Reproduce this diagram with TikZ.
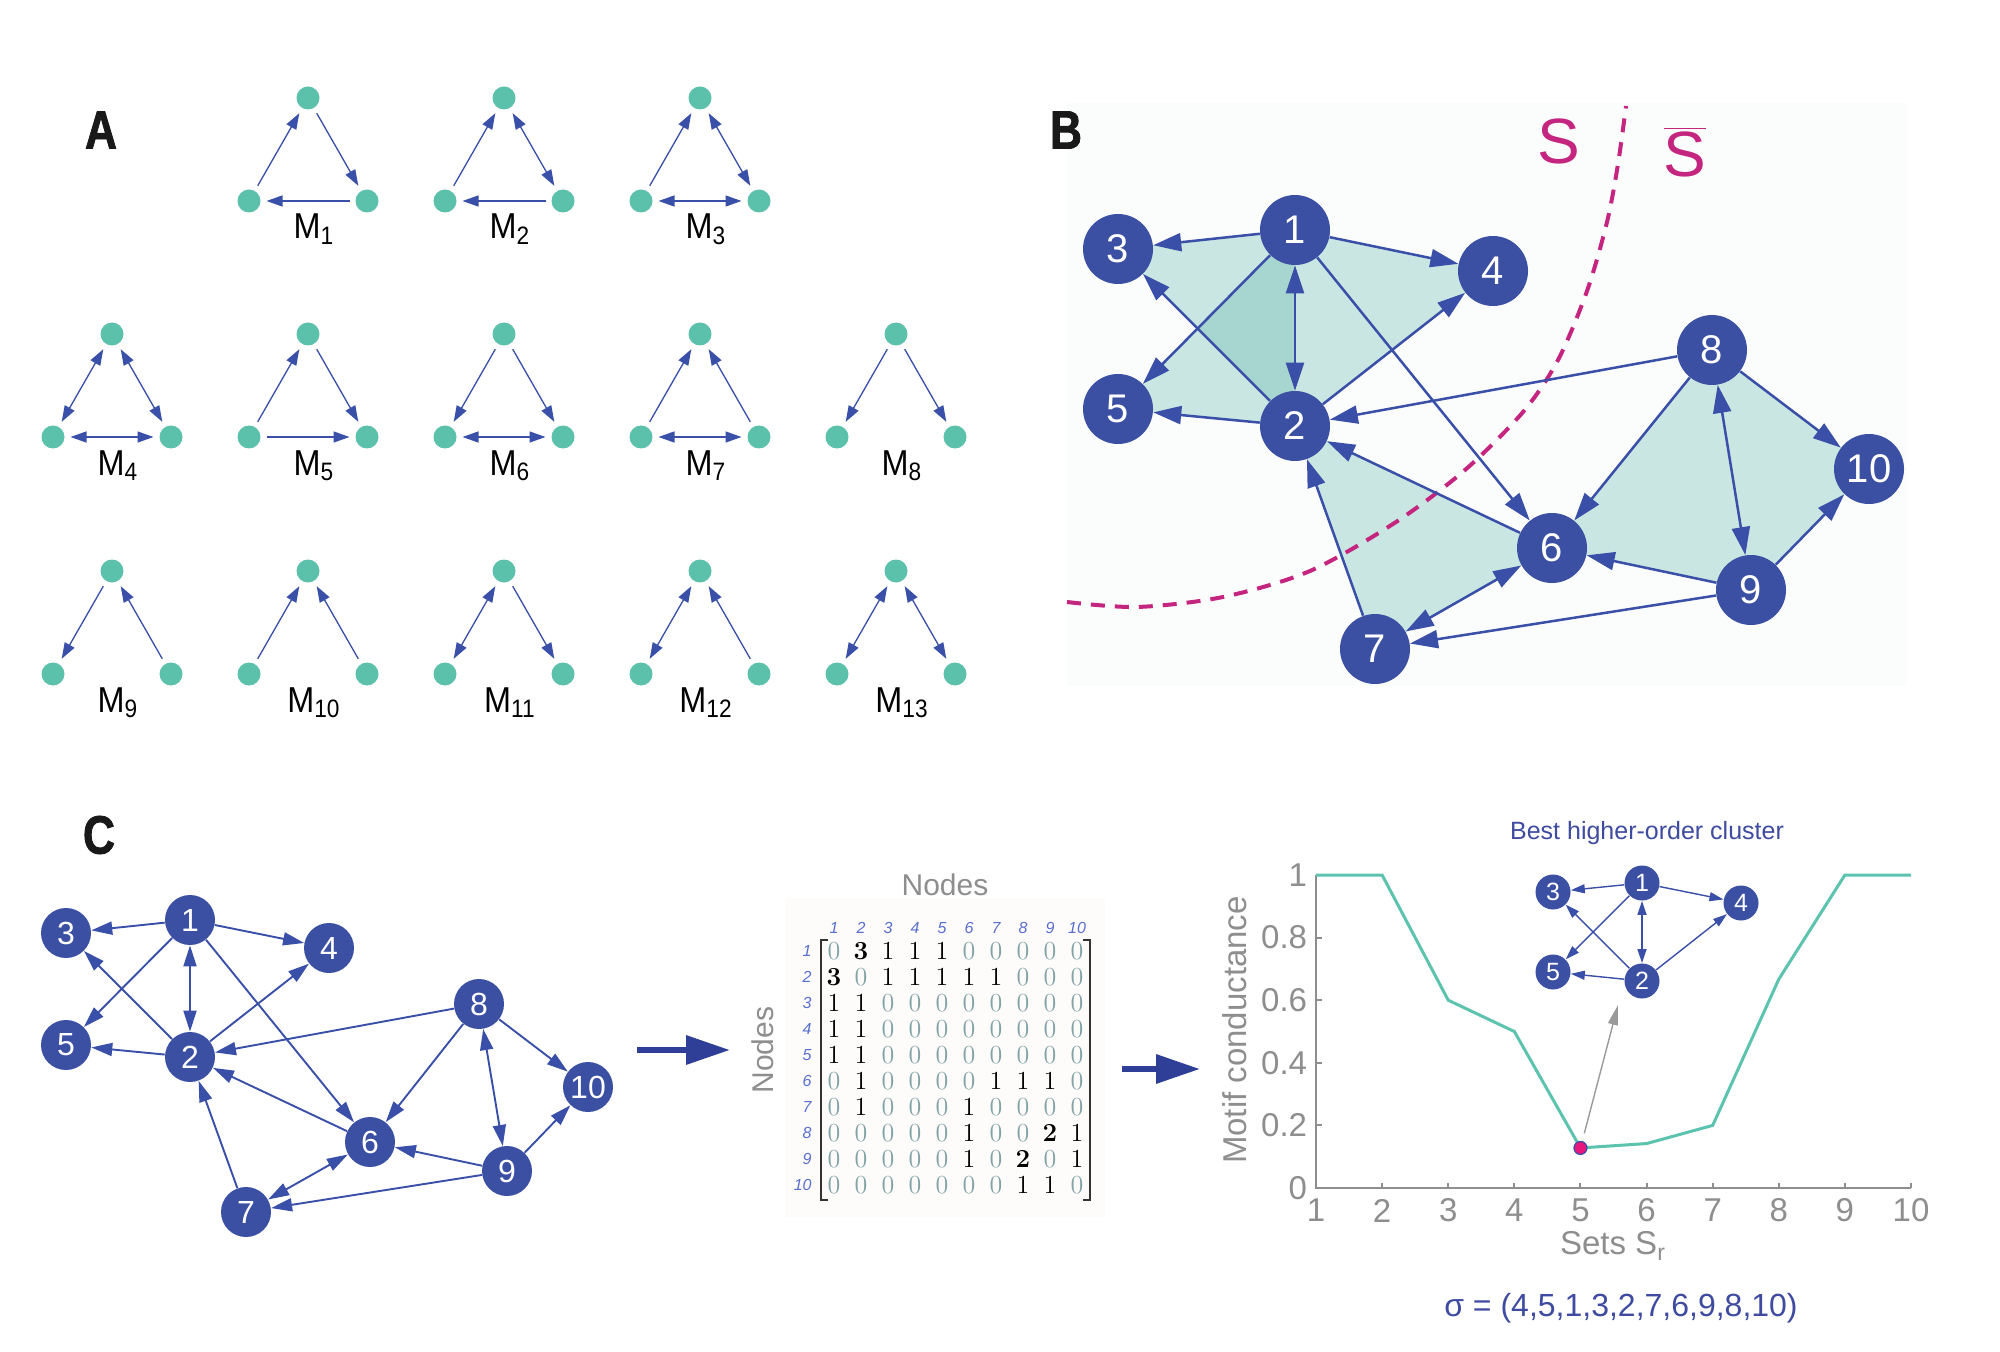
\documentclass[tikz,border=0pt]{standalone}
\usepackage{fontspec}
\usetikzlibrary{arrows.meta}
\newfontfamily\hv{Liberation Sans}
\newfontfamily\hvn[FakeStretch=0.9]{Liberation Sans}
\newfontfamily\hvp[FakeStretch=0.82,FakeBold=1.5]{Liberation Sans}
\definecolor{nblue}{HTML}{3B4FA3}
\definecolor{eblue}{HTML}{3A4FA8}
\definecolor{mteal}{HTML}{5BC1AA}
\definecolor{shadec}{RGB}{76,173,159}
\definecolor{smag}{HTML}{C4267F}
\definecolor{agrey}{HTML}{8E8E8E}
\definecolor{zgrey}{HTML}{82A2A6}
\definecolor{hblue}{HTML}{5A6FD0}
\definecolor{sblue}{HTML}{3F4BA0}
\definecolor{cteal}{HTML}{5CC3AF}
\definecolor{dpink}{HTML}{E8177D}
\definecolor{barrow}{HTML}{2F3F97}
\definecolor{bbg}{HTML}{FBFCFC}
\definecolor{mbg}{HTML}{FDFCFB}
\definecolor{ggrey}{HTML}{9A9A9A}
\newcommand\fs[1]{\fontsize{#1}{#1}\selectfont}
\newcommand\motif[4]{%
  \node[mnode] (#1t) at (#2,#3) {};
  \node[mnode] (#1l) at (#2-59,#3+103) {};
  \node[mnode] (#1r) at (#2+59,#3+103) {};
  \node[mlabel, anchor=base] (#1lab) at (#2+6,#3+141) {M\textsubscript{#4}};
}
\newcommand\netedges[2]{%
  \foreach \a/\b in {1/3,1/4,1/5,1/6,2/3,2/4,2/5,8/2,6/2,7/2,8/6,8/10,9/10,9/6,9/7}
    \draw[#2,->] (#1\a) -- (#1\b);
  \foreach \a/\b in {1/2,8/9,6/7}
    \draw[#2,<->] (#1\a) -- (#1\b);
}
\newcommand\wentry[1]{\ifnum#1=0 \textcolor{zgrey}{0}\else\ifnum#1>1 \textbf{#1}\else #1\fi\fi}
\begin{document}
\begin{tikzpicture}[x=0.5pt,y=-0.5pt,
  mnode/.style={circle, fill=mteal, minimum size=11.5pt, inner sep=0pt, outer sep=3pt},
  medge/.style={draw=eblue, line width=0.65pt, >={Triangle[length=8pt,width=5.5pt]}},
  mlabel/.style={font=\hvn\fs{18pt}, inner sep=0pt},
  plab/.style={font=\hvp\bfseries\fs{27pt}, inner sep=0pt, text=black!90},
  bnode/.style={circle, fill=nblue, minimum size=35pt, inner sep=0pt, text=white, font=\hv\fs{20pt}},
  bedge/.style={draw=eblue, line width=1.25pt, >={Triangle[length=14pt,width=9pt]}},
  cnode/.style={circle, fill=nblue, minimum size=25pt, inner sep=0pt, text=white, font=\hv\fs{16pt}},
  cedge/.style={draw=eblue, line width=0.95pt, >={Triangle[length=10.5pt,width=6.5pt]}},
  inode/.style={circle, fill=nblue, minimum size=17.5pt, inner sep=0pt, text=white, font=\hv\fs{12.5pt}},
  iedge/.style={draw=eblue, line width=0.7pt, >={Triangle[length=7pt,width=4.5pt]}},
  shadefill/.style={fill=shadec, fill opacity=0.28},
  scurve/.style={draw=smag, line width=2pt, dash pattern=on 7pt off 5pt},
  slab/.style={text=smag, font=\hv\fs{32pt}, inner sep=0pt},
  mentry/.style={inner sep=0pt, font=\fs{13pt}},
  hdr/.style={inner sep=0pt, text=hblue, font=\hv\itshape\fs{8pt}},
  glab/.style={text=agrey, font=\hv\fs{15pt}, inner sep=0pt},
  ticklab/.style={text=agrey, font=\hv\fs{16.5pt}, inner sep=0pt},
  axis/.style={draw=agrey, line width=1pt},
  blab/.style={text=sblue, font=\hv\fs{12.5pt}, inner sep=0pt},
  sig/.style={text=sblue, font=\hv\fs{16pt}, inner sep=0pt},
  bigarrow/.style={draw=barrow, line width=3.2pt, -{Triangle[length=22pt,width=14pt]}},
  dot/.style={circle, fill=dpink, draw=nblue, line width=0.6pt, minimum size=6.5pt, inner sep=0pt},
  garrow/.style={draw=ggrey, line width=0.7pt, -{Triangle[length=10pt,width=5pt]}, shorten <=4pt},
  brk/.style={draw=black!80, line width=1pt}
]
\useasboundingbox (0,0) rectangle (2000,1352);
\fill[white] (0,0) rectangle (2000,1352);

% ---------------- Panel A ----------------
\node[plab] (labA) at (101,130) {A};
\motif{m1}{308}{98}{1}
\motif{m2}{504}{98}{2}
\motif{m3}{700}{98}{3}
\motif{m4}{112}{334}{4}
\motif{m5}{308}{334}{5}
\motif{m6}{504}{334}{6}
\motif{m7}{700}{334}{7}
\motif{m8}{896}{334}{8}
\motif{m9}{112}{571}{9}
\motif{m10}{308}{571}{10}
\motif{m11}{504}{571}{11}
\motif{m12}{700}{571}{12}
\motif{m13}{896}{571}{13}
% M1
\draw[medge,->] (m1l) -- (m1t); \draw[medge,->] (m1t) -- (m1r); \draw[medge,->] (m1r) -- (m1l);
% M2
\draw[medge,->] (m2l) -- (m2t); \draw[medge,<->] (m2t) -- (m2r); \draw[medge,->] (m2r) -- (m2l);
% M3
\draw[medge,->] (m3l) -- (m3t); \draw[medge,<->] (m3t) -- (m3r); \draw[medge,<->] (m3l) -- (m3r);
% M4
\draw[medge,<->] (m4t) -- (m4l); \draw[medge,<->] (m4t) -- (m4r); \draw[medge,<->] (m4l) -- (m4r);
% M5
\draw[medge,->] (m5l) -- (m5t); \draw[medge,->] (m5t) -- (m5r); \draw[medge,->] (m5l) -- (m5r);
% M6
\draw[medge,->] (m6t) -- (m6l); \draw[medge,->] (m6t) -- (m6r); \draw[medge,<->] (m6l) -- (m6r);
% M7
\draw[medge,->] (m7l) -- (m7t); \draw[medge,->] (m7r) -- (m7t); \draw[medge,<->] (m7l) -- (m7r);
% M8
\draw[medge,->] (m8t) -- (m8l); \draw[medge,->] (m8t) -- (m8r);
% M9
\draw[medge,->] (m9t) -- (m9l); \draw[medge,->] (m9r) -- (m9t);
% M10
\draw[medge,->] (m10l) -- (m10t); \draw[medge,->] (m10r) -- (m10t);
% M11
\draw[medge,<->] (m11t) -- (m11l); \draw[medge,->] (m11t) -- (m11r);
% M12
\draw[medge,<->] (m12t) -- (m12l); \draw[medge,->] (m12r) -- (m12t);
% M13
\draw[medge,<->] (m13t) -- (m13l); \draw[medge,<->] (m13t) -- (m13r);

% ---------------- Panel B ----------------
\fill[bbg] (1067,103) rectangle (1906,686);
\node[plab] (labB) at (1066,130) {B};
\foreach \n/\x/\y in {1/1295/230, 2/1295/426, 3/1118/249, 4/1493/271, 5/1118/409,
                      6/1552/548, 7/1375/649, 8/1712/350, 9/1751/590, 10/1869/469}
  \coordinate (b\n) at (\x,\y);
\foreach \p/\q/\r in {1/2/3, 1/2/5, 1/2/4, 2/6/7, 6/8/9, 8/9/10}
  \fill[shadefill] (b\p) -- (b\q) -- (b\r) -- cycle;
\draw[scurve] plot[smooth] coordinates {(1067,602) (1137,607) (1223,597) (1310,571) (1396,522) (1465,470) (1523,412) (1558,360) (1587,291) (1607,222) (1618,164) (1626,106)};
\foreach \n in {1,...,10}
  \node[bnode] (B\n) at (b\n) {\n};
\netedges{B}{bedge}
\node[slab] (S) at (1559,141) {S};
\node[slab] (Sbar) at (1685,152) {$\overline{\mbox{S}}$};

% ---------------- Panel C ----------------
\node[plab] (labC) at (99,835) {C};
\foreach \n/\x/\y in {1/190/920, 2/190/1057, 3/66/933, 4/329/948, 5/66/1045,
                      6/370/1142, 7/246/1212, 8/479/1004, 9/507/1171, 10/588/1087}
  \node[cnode] (C\n) at (\x,\y) {\n};
\netedges{C}{cedge}

% arrow 1
\coordinate (a1s) at (637,1050);
\coordinate (a1e) at (730,1050);
\draw[bigarrow] (a1s) -- (a1e);

% matrix
\fill[mbg] (785,898) rectangle (1105,1217);
\node[glab] (ntop) at (945,885) {Nodes};
\node[glab, rotate=90] (nleft) at (763,1050) {Nodes};
\foreach \j in {1,...,10}
  \node[hdr] (h\j) at ({834+27*(\j-1)},928) {\j};
\foreach \i in {1,...,10}
  \node[hdr, anchor=east] (r\i) at (812,{951+26*(\i-1)}) {\i};
\foreach \row [count=\i] in {{0,3,1,1,1,0,0,0,0,0},{3,0,1,1,1,1,1,0,0,0},{1,1,0,0,0,0,0,0,0,0},
   {1,1,0,0,0,0,0,0,0,0},{1,1,0,0,0,0,0,0,0,0},{0,1,0,0,0,0,1,1,1,0},{0,1,0,0,0,1,0,0,0,0},
   {0,0,0,0,0,1,0,0,2,1},{0,0,0,0,0,1,0,2,0,1},{0,0,0,0,0,0,0,1,1,0}}
  \foreach \v [count=\j] in \row
    \node[mentry] (w\i-\j) at ({834+27*(\j-1)},{951+26*(\i-1)}) {\wentry{\v}};
\draw[brk] (828,940) -- (821,940) -- (821,1200) -- (828,1200);
\draw[brk] (1083,940) -- (1090,940) -- (1090,1200) -- (1083,1200);

% arrow 2
\coordinate (a2s) at (1122,1069);
\coordinate (a2e) at (1200,1069);
\draw[bigarrow] (a2s) -- (a2e);

% chart
\begin{scope}[shift={(1249.89,1188)}, x=33.055pt, y=156.5pt]
  \draw[axis] (1,1) -- (1,0) -- (10,0);
  \foreach \i in {2,...,10} \draw[axis] (\i,0) -- (\i,0.017);
  \foreach \v in {0.2,0.4,0.6,0.8,1} \draw[axis] (1,\v) -- (1.09,\v);
  \foreach \i in {1,...,10} \node[ticklab] (xt\i) at (\i,-0.072) {\i};
  \foreach \v/\t [count=\k] in {0/0,0.2/0.2,0.4/0.4,0.6/0.6,0.8/0.8,1/1}
    \node[ticklab, anchor=east] (yt\k) at (0.87,\v) {\t};
  \draw[cteal, line width=1.5pt] plot coordinates {(1,1) (2,1) (3,0.6) (4,0.5) (5,0.128) (6,0.142) (7,0.2) (8,0.667) (9,1) (10,1)};
  \node[dot] (best) at (5,0.128) {};
\end{scope}
\node[ticklab, rotate=90] (ylab) at (1235,1030) {Motif conductance};
\node[ticklab] (xlab) at (1613,1246) {Sets S\textsubscript{r}};
\node[sig] (sigma) at (1621,1308) {σ = (4,5,1,3,2,7,6,9,8,10)};
\node[blab] (bestlab) at (1647,833) {Best higher-order cluster};
\coordinate (gtip) at (1618,1005);
\draw[garrow] (best) -- (gtip);

% inset graph
\foreach \n/\x/\y in {1/1642/883, 2/1642/981, 3/1553/892, 4/1741/903, 5/1553/972}
  \node[inode] (I\n) at (\x,\y) {\n};
\foreach \a/\b in {1/3,1/4,1/5,2/3,2/4,2/5}
  \draw[iedge,->] (I\a) -- (I\b);
\draw[iedge,<->] (I1) -- (I2);
\end{tikzpicture}
\end{document}
